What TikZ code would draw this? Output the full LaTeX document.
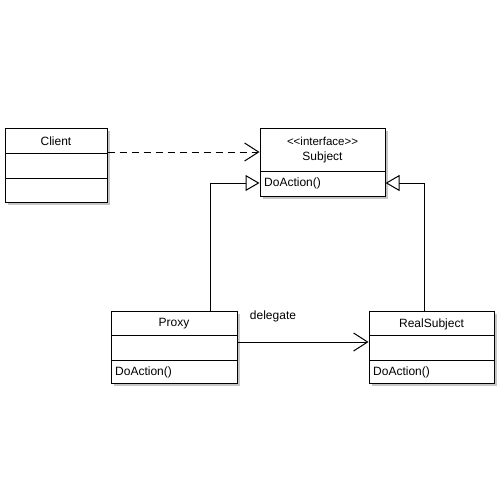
\documentclass[tikz,border=0pt]{standalone}
\usepackage{fontspec}
\setmainfont{Liberation Sans}
\usetikzlibrary{arrows.meta,shadows}
\begin{document}
\begin{tikzpicture}[x=1pt,y=-1pt,
  every node/.style={font=\fontsize{12}{14}\selectfont},
  umlbox/.style={draw=black, line width=1pt, fill=white, inner sep=0pt,
    drop shadow={shadow xshift=2.5pt, shadow yshift=-2.5pt, fill=gray!45, opacity=1}},
  divider/.style={draw=black, line width=1pt},
  lbl/.style={inner sep=0pt, anchor=center},
  llbl/.style={inner sep=0pt, anchor=west},
  openarrow/.style={line width=1pt, -{Straight Barb[length=14pt,width=18pt,line width=1pt]}},
  inherit/.style={line width=1pt, -{Triangle[open,length=14pt,width=16pt,line width=1pt,fill=white]}}
]
\useasboundingbox (0,0) rectangle (500,500);
\fill[white] (0,0) rectangle (500,500);

% Client
\node[umlbox, minimum width=102pt, minimum height=74pt] (client) at (56,165) {};
\draw[divider] (5,153) coordinate (c1) -- (107,153) coordinate (c2);
\draw[divider] (5,178) coordinate (c3) -- (107,178) coordinate (c4);
\node[lbl] (clientname) at (56,141) {Client};

% Subject
\node[umlbox, minimum width=125pt, minimum height=68pt] (subject) at (322.5,162) {};
\draw[divider] (260,171) coordinate (s1) -- (385,171) coordinate (s2);
\node[lbl, font=\fontsize{11.5}{13}\selectfont] (stereo) at (322.5,141) {<\kern0pt<interface>\kern0pt>};
\node[lbl] (subjectname) at (322.5,157) {Subject};
\node[llbl] (subjectop) at (264,183) {DoAction()};

% Proxy
\node[umlbox, minimum width=126pt, minimum height=72pt] (proxy) at (174,347) {};
\draw[divider] (111,335) coordinate (p1) -- (237,335) coordinate (p2);
\draw[divider] (111,360) coordinate (p3) -- (237,360) coordinate (p4);
\node[lbl] (proxyname) at (174,324) {Proxy};
\node[llbl] (proxyop) at (115,372) {DoAction()};

% RealSubject
\node[umlbox, minimum width=125pt, minimum height=72pt] (real) at (431.5,347) {};
\draw[divider] (369,335) coordinate (r1) -- (494,335) coordinate (r2);
\draw[divider] (369,360) coordinate (r3) -- (494,360) coordinate (r4);
\node[lbl] (realname) at (431.5,324) {RealSubject};
\node[llbl] (realop) at (373,372) {DoAction()};

% Connectors
\draw[openarrow, dashed, dash pattern=on 7pt off 5pt] ([yshift=13pt]client.east) -- ([yshift=10pt]subject.west);
\draw[inherit] ([xshift=36pt]proxy.north) |- ([yshift=-21pt]subject.west);
\draw[inherit] ([xshift=-7.5pt]real.north) |- ([yshift=-21pt]subject.east);
\draw[openarrow] ([yshift=5pt]proxy.east) -- ([yshift=5pt]real.west);
\node[lbl] (delegate) at (273,316) {delegate};
\end{tikzpicture}
\end{document}
